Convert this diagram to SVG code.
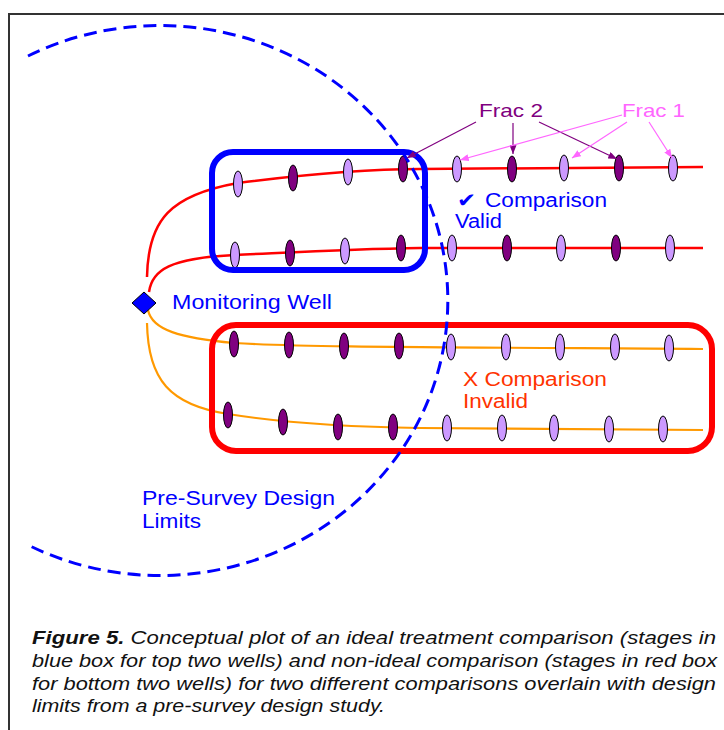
<svg xmlns="http://www.w3.org/2000/svg" width="724" height="730" viewBox="0 0 724 730">
  <defs>
    <style>
      text { font-family: "Liberation Sans", Arial, sans-serif; }
      .lbl { font-size: 20px; }
      .blue { fill: #0000FF; }
      .frac { font-size: 19px; }
      .well-red { fill: none; stroke: #FF0000; stroke-width: 2.5; }
      .well-org { fill: none; stroke: #FF9900; stroke-width: 2.2; }
      .st1 { fill: #CC99FF; stroke: #000; stroke-width: 1; }
      .st2 { fill: #800080; stroke: #000; stroke-width: 1; }
      .box { fill: none; stroke-width: 6; }
      .cap { font-size: 18px; font-style: italic; fill: #111; }
      .a2 { stroke: #800080; stroke-width: 1.2; fill: none; marker-end: url(#head2); }
      .a1 { stroke: #FF66FF; stroke-width: 1.2; fill: none; marker-end: url(#head1); }
    </style>
    <marker id="head2" viewBox="0 0 10 8" refX="10" refY="4" markerWidth="9" markerHeight="7" markerUnits="userSpaceOnUse" orient="auto">
      <path d="M0 0 L10 4 L0 8 Z" fill="#800080"/>
    </marker>
    <marker id="head1" viewBox="0 0 10 8" refX="10" refY="4" markerWidth="9" markerHeight="7" markerUnits="userSpaceOnUse" orient="auto">
      <path d="M0 0 L10 4 L0 8 Z" fill="#FF66FF"/>
    </marker>
  </defs>

  <rect width="724" height="730" fill="#FFFFFF"/>
  <!-- page frame -->
  <rect id="frame" x="9" y="14" width="740" height="740" fill="none" stroke="#333" stroke-width="2"/>

  <!-- horizontal well trajectories -->
  <g id="wells">
    <path id="well-1" class="well-red" d="M147 277 C148 220 170 195 238 183 C300 175 360 169 420 169 L703 167"/>
    <path id="well-2" class="well-red" d="M149 292 C152 270 170 258 235 255 C300 252 350 249 420 248 L703 248"/>
    <path id="well-3" class="well-org" d="M148 310 C152 330 180 338 234 343 C300 347 400 347 703 349"/>
    <path id="well-4" class="well-org" d="M147 323 C148 380 170 405 228 414 C290 424 350 427 420 428 L703 430"/>
  </g>

  <!-- frac stages -->
  <g id="stages-well-1">
    <ellipse class="st1" cx="238" cy="184" rx="4.5" ry="13"/>
    <ellipse class="st2" cx="293" cy="178" rx="4.5" ry="13"/>
    <ellipse class="st1" cx="348" cy="172" rx="4.5" ry="13"/>
    <ellipse class="st2" cx="403" cy="169" rx="4.5" ry="13"/>
    <ellipse class="st1" cx="457" cy="169" rx="4.5" ry="13"/>
    <ellipse class="st2" cx="512" cy="169" rx="4.5" ry="13"/>
    <ellipse class="st1" cx="564" cy="168" rx="4.5" ry="13"/>
    <ellipse class="st2" cx="619" cy="168" rx="4.5" ry="13"/>
    <ellipse class="st1" cx="673" cy="168" rx="4.5" ry="13"/>
  </g>
  <g id="stages-well-2">
    <ellipse class="st1" cx="235" cy="255" rx="4.5" ry="13"/>
    <ellipse class="st2" cx="290" cy="253" rx="4.5" ry="13"/>
    <ellipse class="st1" cx="345" cy="251" rx="4.5" ry="13"/>
    <ellipse class="st2" cx="401" cy="248" rx="4.5" ry="13"/>
    <ellipse class="st1" cx="452" cy="248" rx="4.5" ry="13"/>
    <ellipse class="st2" cx="507" cy="248" rx="4.5" ry="13"/>
    <ellipse class="st1" cx="561" cy="248" rx="4.5" ry="13"/>
    <ellipse class="st2" cx="616" cy="248" rx="4.5" ry="13"/>
    <ellipse class="st1" cx="670" cy="248" rx="4.5" ry="13"/>
  </g>
  <g id="stages-well-3">
    <ellipse class="st2" cx="234" cy="344" rx="4.5" ry="13"/>
    <ellipse class="st2" cx="289" cy="345" rx="4.5" ry="13"/>
    <ellipse class="st2" cx="344" cy="346" rx="4.5" ry="13"/>
    <ellipse class="st2" cx="399" cy="346" rx="4.5" ry="13"/>
    <ellipse class="st1" cx="451" cy="347" rx="4.5" ry="13"/>
    <ellipse class="st1" cx="506" cy="347" rx="4.5" ry="13"/>
    <ellipse class="st1" cx="560" cy="347" rx="4.5" ry="13"/>
    <ellipse class="st1" cx="615" cy="347" rx="4.5" ry="13"/>
    <ellipse class="st1" cx="669" cy="348" rx="4.5" ry="13"/>
  </g>
  <g id="stages-well-4">
    <ellipse class="st2" cx="228" cy="415" rx="4.5" ry="13"/>
    <ellipse class="st2" cx="283" cy="422" rx="4.5" ry="13"/>
    <ellipse class="st2" cx="338" cy="427" rx="4.5" ry="13"/>
    <ellipse class="st2" cx="393" cy="427" rx="4.5" ry="13"/>
    <ellipse class="st1" cx="447" cy="428" rx="4.5" ry="13"/>
    <ellipse class="st1" cx="502" cy="428" rx="4.5" ry="13"/>
    <ellipse class="st1" cx="554" cy="428" rx="4.5" ry="13"/>
    <ellipse class="st1" cx="609" cy="429" rx="4.5" ry="13"/>
    <ellipse class="st1" cx="663" cy="429" rx="4.5" ry="13"/>
  </g>

  <!-- comparison boxes -->
  <g id="box-valid">
    <rect class="box" x="212" y="152" width="213" height="118" rx="21" stroke="#0000FF"/>
  </g>
  <g id="box-invalid">
    <rect class="box" x="212" y="325" width="500" height="126" rx="24" stroke="#FF0000"/>
  </g>

  <!-- pre-survey design limit -->
  <g id="design-limits">
    <path d="M28 56 A288 275 0 1 1 28 545" fill="none" stroke="#0000FF" stroke-width="3" stroke-dasharray="13 7"/>
  </g>

  <!-- monitoring well -->
  <g id="monitoring-well">
    <polygon points="144,292 156,303 144,314 132,303" fill="#0000FF" stroke="#000" stroke-width="1"/>
    <text class="lbl blue" x="172" y="309" textLength="160" lengthAdjust="spacingAndGlyphs">Monitoring Well</text>
  </g>

  <!-- frac labels -->
  <g id="frac-2-label">
    <text class="frac" x="479" y="117" fill="#800080" textLength="64" lengthAdjust="spacingAndGlyphs">Frac 2</text>
  </g>
  <g id="frac-1-label">
    <text class="frac" x="622" y="117" fill="#FF66FF" textLength="63" lengthAdjust="spacingAndGlyphs">Frac 1</text>
  </g>

  <g id="connectors">
    <line class="a2" x1="476" y1="122" x2="407" y2="158"/>
    <line class="a2" x1="513" y1="123" x2="513" y2="154"/>
    <line class="a2" x1="539" y1="122" x2="617" y2="159"/>
    <line class="a1" x1="622" y1="115" x2="460" y2="160"/>
    <line class="a1" x1="627" y1="122" x2="572" y2="158"/>
    <line class="a1" x1="649" y1="122" x2="672" y2="158"/>
  </g>

  <!-- annotations -->
  <g id="label-valid">
    <text x="457" y="207" fill="#0000FF" style="font-family: 'DejaVu Sans', sans-serif; font-size: 20px;" textLength="19" lengthAdjust="spacingAndGlyphs">✔</text>
    <text class="lbl blue" x="485" y="207" textLength="122" lengthAdjust="spacingAndGlyphs">Comparison</text>
    <text class="lbl blue" x="455" y="228" textLength="47" lengthAdjust="spacingAndGlyphs">Valid</text>
  </g>
  <g id="label-invalid">
    <text class="lbl" x="463" y="386" fill="#FF3300" textLength="144" lengthAdjust="spacingAndGlyphs">X Comparison</text>
    <text class="lbl" x="463" y="408" fill="#FF3300" textLength="65" lengthAdjust="spacingAndGlyphs">Invalid</text>
  </g>
  <g id="label-limits">
    <text class="lbl blue" x="142" y="505" textLength="193" lengthAdjust="spacingAndGlyphs">Pre-Survey Design</text>
    <text class="lbl blue" x="142" y="528" textLength="59" lengthAdjust="spacingAndGlyphs">Limits</text>
  </g>

  <!-- caption -->
  <g id="caption">
    <text class="cap" x="32" y="644" textLength="684" lengthAdjust="spacingAndGlyphs"><tspan font-weight="bold">Figure 5.</tspan> Conceptual plot of an ideal treatment comparison (stages in</text>
    <text class="cap" x="32" y="667" textLength="685" lengthAdjust="spacingAndGlyphs">blue box for top two wells) and non-ideal comparison (stages in red box</text>
    <text class="cap" x="32" y="690" textLength="684" lengthAdjust="spacingAndGlyphs">for bottom two wells) for two different comparisons overlain with design</text>
    <text class="cap" x="32" y="712" textLength="353" lengthAdjust="spacingAndGlyphs">limits from a pre-survey design study.</text>
  </g>
</svg>
